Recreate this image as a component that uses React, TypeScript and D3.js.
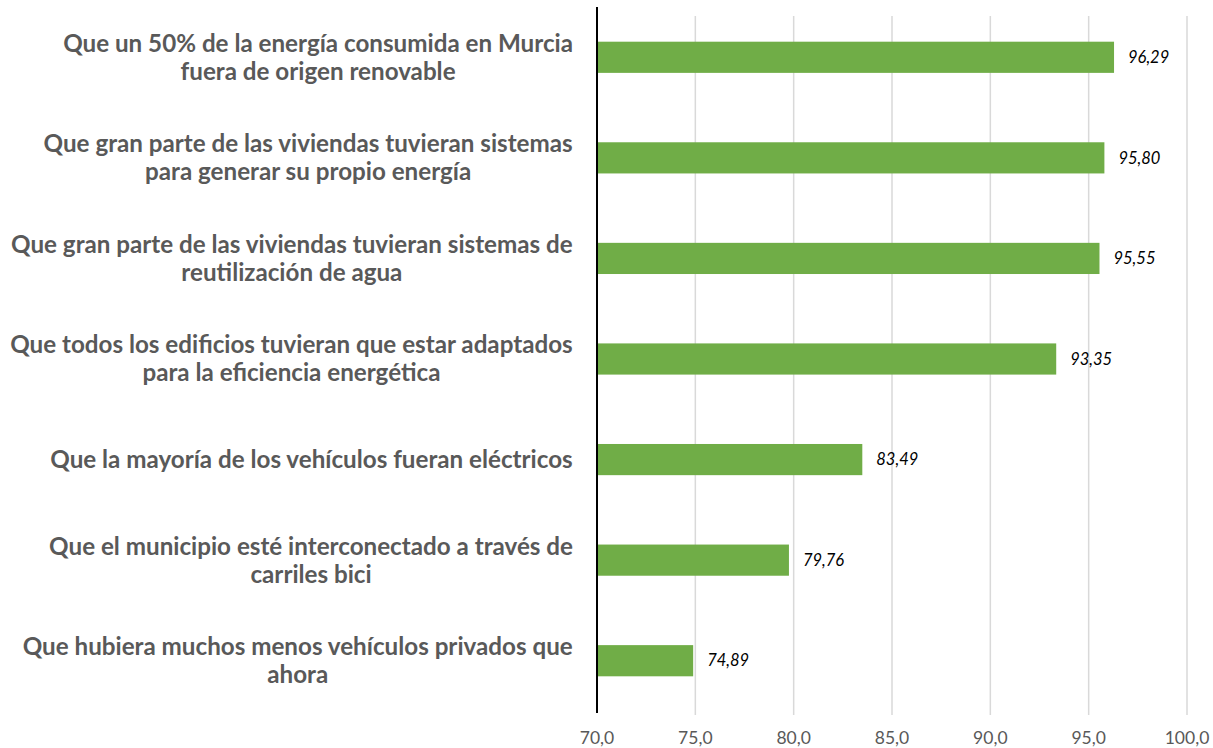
import React from "react";
import * as d3 from "d3";

const categories: string[][] = [
  ["Que un 50% de la energía consumida en Murcia", "fuera de origen renovable"],
  ["Que gran parte de las viviendas tuvieran sistemas", "para generar su propio energía"],
  ["Que gran parte de las viviendas tuvieran sistemas de", "reutilización de agua"],
  ["Que todos los edificios tuvieran que estar adaptados", "para la eficiencia energética"],
  ["Que la mayoría de los vehículos fueran eléctricos"],
  ["Que el municipio esté interconectado a través de", "carriles bici"],
  ["Que hubiera muchos menos vehículos privados que", "ahora"],
];
const values: number[] = [96.29, 95.8, 95.55, 93.35, 83.49, 79.76, 74.89];
const ticks: number[] = [70, 75, 80, 85, 90, 95, 100];

const W = 1213;
const H = 748;
const left = 597;
const right = 1187;
const top = 7;
const bottom = 715;
const labelRight = 573;
const font = "Lato, 'Open Sans', sans-serif";
const catSize = 24.2;

function measure(text: string): number {
  const c = document.createElement("canvas").getContext("2d");
  if (!c) return text.length * catSize * 0.5;
  c.font = `bold ${catSize}px Lato`;
  return c.measureText(text).width;
}

export default function App() {
  const x = d3.scaleLinear().domain([70, 100]).range([left, right]);
  const y = d3
    .scaleBand<number>()
    .domain(d3.range(values.length))
    .range([top, bottom - 4])
    .paddingInner(0.69)
    .paddingOuter(0.345);
  const fmt = (v: number) => v.toFixed(2).replace(".", ",");
  const fmtTick = (v: number) => v.toFixed(1).replace(".", ",");
  return (
    <svg
      width={W}
      height={H}
      style={{ position: "absolute", left: 0, top: 0, background: "#fff" }}
    >
      {ticks.slice(1).map((t) => (
        <line key={t} x1={x(t)} x2={x(t)} y1={16} y2={bottom} stroke="#d9d9d9" strokeWidth={1.5} />
      ))}
      {values.map((v, i) => {
        const lines = categories[i];
        const maxW = Math.max(...lines.map(measure));
        const cx = labelRight - maxW / 2;
        const cy = y(i)! + y.bandwidth() / 2;
        const lh = 28;
        const firstY = cy - ((lines.length - 1) * lh) / 2;
        return (
          <g key={i}>
            <rect x={x(70)} y={y(i)!} width={x(v) - x(70)} height={y.bandwidth()} fill="#70ad47" />
            <text
              x={x(v) + 14}
              y={cy}
              dy="0.35em"
              fontFamily={font}
              fontStyle="italic"
              fontSize={16.5}
              fill="#000"
            >
              {fmt(v)}
            </text>
            {lines.map((line, j) => (
              <text
                key={j}
                x={cx}
                y={firstY + j * lh}
                dy="0.35em"
                textAnchor="middle"
                fontFamily={font}
                fontWeight="bold"
                fontSize={catSize}
                fill="#595959"
              >
                {line}
              </text>
            ))}
          </g>
        );
      })}
      <line x1={left} x2={left} y1={top} y2={713} stroke="#000" strokeWidth={2} />
      {ticks.map((t) => (
        <text
          key={t}
          x={x(t)}
          y={738}
          dy="0.35em"
          textAnchor="middle"
          fontFamily={font}
          fontSize={17.5}
          fill="#595959"
        >
          {fmtTick(t)}
        </text>
      ))}
    </svg>
  );
}
